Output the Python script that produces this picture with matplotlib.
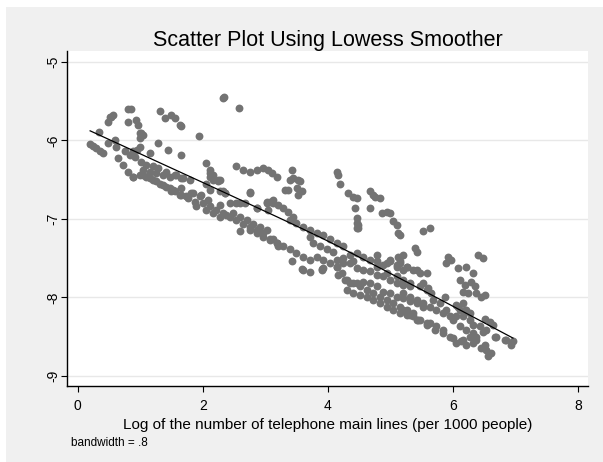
import numpy as np
import matplotlib
matplotlib.use("Agg")
import matplotlib.pyplot as plt
from matplotlib.patches import Rectangle

plt.rcParams['font.family'] = ['Liberation Sans', 'DejaVu Sans']

# points, grouped by region (x = log phone lines, y = outcome)
left_x = [0.20, 0.25, 0.30, 0.36, 0.41, 0.34, 0.54, 0.49, 0.81, 0.85,
          0.52, 0.57, 0.80, 0.94, 0.96, 1.00, 1.04, 1.31, 1.40, 1.50,
          1.55, 1.63, 1.94, 1.66, 1.45, 1.29, 1.15, 1.00, 0.60, 0.62,
          0.48, 0.88, 0.95, 0.65, 0.73, 0.81, 0.89, 0.76, 0.84, 0.92,
          1.02, 1.10, 1.21, 1.05, 1.15, 1.26, 1.37, 1.47, 1.55, 1.66,
          1.77, 1.87, 1.29, 1.42, 1.55, 1.66, 1.50, 1.66, 1.82, 1.98,
          1.02, 0.99, 1.65,
          0.89, 1.00, 1.10, 1.21, 1.31, 1.42,
          1.05, 1.15, 1.26, 1.37, 1.47, 1.58, 1.69, 1.79,
          1.53, 1.63, 1.74, 1.85, 1.95, 1.90]
left_y = [-6.05, -6.07, -6.10, -6.13, -6.16, -5.89, -5.70, -5.76, -5.60, -5.60,
          -5.70, -5.68, -5.77, -5.74, -5.80, -5.90, -5.93, -5.62, -5.71, -5.68,
          -5.71, -5.80, -5.94, -6.18, -6.12, -6.03, -6.16, -6.08, -5.99, -6.08,
          -6.03, -6.14, -6.12, -6.23, -6.31, -6.40, -6.46, -6.14, -6.18, -6.21,
          -6.27, -6.31, -6.33, -6.44, -6.48, -6.52, -6.57, -6.61, -6.65, -6.69,
          -6.74, -6.78, -6.35, -6.40, -6.44, -6.48, -6.65, -6.61, -6.67, -6.69,
          -5.91, -5.97, -5.81,
          -6.46, -6.44, -6.46, -6.50, -6.55, -6.59,
          -6.38, -6.40, -6.42, -6.44, -6.46, -6.44, -6.48, -6.50,
          -6.63, -6.69, -6.71, -6.67, -6.71, -6.84]

mid_x = [2.32, 2.34, 2.58,
         2.54, 2.65, 2.75, 2.86, 2.96, 3.04, 3.10, 3.18,
         3.42, 3.44, 3.52, 3.36, 3.50, 3.52,
         2.06, 2.11, 2.17, 2.27, 2.33, 2.35, 2.75, 2.09,
         3.07, 3.20, 3.28, 3.36, 3.44, 3.04, 2.86, 2.59,
         2.11, 2.16, 2.25, 2.27,
         2.01, 2.11, 2.22, 2.33, 2.43, 2.54, 2.65, 2.75, 2.86, 2.96, 3.07, 3.18,
         2.06, 2.17, 2.27, 2.38, 2.49, 2.59, 2.70, 2.81, 2.91, 3.02,
         2.06, 2.11, 2.25, 2.11, 2.35, 2.75,
         2.27, 2.43, 2.54, 2.67, 2.86, 3.02, 3.12,
         2.59, 2.75, 2.86, 2.96, 3.12, 3.20,
         3.02, 3.12, 3.31, 3.39, 3.55, 3.58,
         3.39, 3.49, 3.60, 3.71, 3.82, 3.92,
         3.71, 3.76, 3.87, 3.98,
         3.07, 3.18, 3.28, 3.39, 3.49, 3.60, 3.71,
         3.42, 3.59, 3.72, 3.91, 3.82, 3.92, 3.92, 3.60, 3.90]
mid_y = [-5.46, -5.45, -5.59,
         -6.33, -6.38, -6.40, -6.38, -6.35, -6.38, -6.42, -6.46,
         -6.38, -6.48, -6.50, -6.63, -6.61, -6.69,
         -6.29, -6.38, -6.44, -6.50, -6.65, -6.67, -6.66, -6.76,
         -6.78, -6.82, -6.86, -6.91, -6.97, -6.89, -6.86, -6.80,
         -6.42, -6.50, -6.52, -6.65,
         -6.80, -6.84, -6.89, -6.93, -6.97, -7.01, -7.06, -7.10, -7.14, -7.18, -7.25, -7.31,
         -6.89, -6.93, -6.97, -6.95, -6.93, -6.97, -7.01, -7.06, -7.10, -7.14,
         -6.55, -6.46, -6.50, -6.63, -6.67, -6.67,
         -6.82, -6.80, -6.80, -6.80, -6.86, -6.80, -6.80,
         -7.16, -7.14, -7.18, -7.23, -7.25, -7.35,
         -6.78, -6.76, -6.63, -6.50, -6.52, -6.65,
         -7.01, -7.05, -7.10, -7.14, -7.18, -7.20,
         -7.23, -7.31, -7.35, -7.39,
         -7.27, -7.31, -7.35, -7.39, -7.44, -7.48, -7.52,
         -7.54, -7.64, -7.68, -7.64, -7.48, -7.52, -7.63, -7.65, -7.65]

rmid_x = [4.14, 4.16, 4.19, 4.32, 4.40, 4.46, 4.43, 4.46, 4.48, 4.46, 4.67, 4.72, 4.67,
          4.75, 4.83, 4.86, 4.94, 4.99, 5.04, 5.10, 5.12, 5.15, 5.52, 5.63, 5.39, 5.42,
          4.78, 4.99, 5.12, 5.15, 5.20,
          4.03, 4.14, 4.24, 4.08,
          4.35, 4.46, 4.56, 4.67, 4.78, 4.88,
          4.99, 5.10, 5.20, 4.46, 4.48,
          4.14, 4.22, 4.30, 4.40, 4.51, 4.62, 4.72, 4.83, 4.94, 5.04, 5.15, 5.26, 5.36, 5.42,
          4.03, 4.14, 4.24, 4.35, 4.46, 4.56, 4.67, 4.78, 4.88, 4.99, 5.10, 5.20, 5.31,
          4.14, 4.24, 4.40,
          4.16, 4.27, 4.35, 4.46, 4.56,
          4.30, 4.40, 4.51, 4.62, 4.72, 4.83, 4.94, 5.04, 5.15, 5.26, 5.36, 5.47, 5.58,
          4.67, 4.78, 4.88, 4.99, 5.10, 5.20, 5.31, 5.42, 5.52,
          4.94, 5.10, 5.20, 5.31, 5.47, 5.58,
          4.78, 4.94, 5.10, 5.26, 5.42]
rmid_y = [-6.40, -6.44, -6.55, -6.67, -6.72, -6.74, -6.86, -6.99, -7.08, -7.12, -6.65, -6.69, -6.86,
          -6.72, -6.74, -6.92, -6.91, -6.93, -7.03, -7.08, -7.18, -7.20, -7.16, -7.12, -7.37, -7.42,
          -7.46, -7.52, -7.48, -7.54, -7.46,
          -7.25, -7.31, -7.35, -7.42,
          -7.46, -7.44, -7.48, -7.52, -7.54, -7.59,
          -7.54, -7.61, -7.65, -7.05, -7.12,
          -7.61, -7.69, -7.78, -7.82, -7.86, -7.90, -7.95, -7.99, -8.03, -8.07, -8.12, -8.16, -8.20, -8.29,
          -7.56, -7.52, -7.50, -7.56, -7.63, -7.65, -7.67, -7.71, -7.73, -7.78, -7.82, -7.84, -7.86,
          -7.61, -7.56, -7.54,
          -7.71, -7.78, -7.82, -7.82, -7.80,
          -7.90, -7.95, -7.97, -7.99, -8.03, -8.07, -8.12, -8.16, -8.20, -8.22, -8.24, -8.29, -8.33,
          -7.82, -7.86, -7.93, -7.95, -7.99, -8.01, -8.05, -8.07, -8.12,
          -7.69, -7.73, -7.78, -7.82, -7.86, -7.90,
          -7.61, -7.56, -7.59, -7.61, -7.65]

right_x = [5.92, 5.97, 5.89, 6.40, 6.48, 6.08, 6.21,
           6.32, 6.11, 6.19, 6.16, 6.29, 6.35,
           6.24, 6.37, 6.45, 6.51, 5.87,
           6.05, 6.11, 6.19,
           6.51, 6.59, 6.64, 6.53, 6.67,
           6.45, 6.53, 6.61, 6.56, 6.51,
           6.85, 6.93, 6.96,
           5.15, 5.26, 5.36, 5.47, 5.58,
           5.52, 5.60, 5.65,
           5.20, 5.31, 5.42, 5.52, 5.63, 5.73, 5.84, 5.95,
           5.20, 5.31, 5.44, 5.58, 5.71, 5.84, 6.00, 6.13, 6.21,
           5.68, 5.79, 5.89, 6.00, 6.11, 6.21, 6.32,
           6.37, 6.27,
           6.16, 6.05, 5.95, 5.84, 5.73, 5.63,
           6.05, 6.16, 6.27, 6.32, 6.43, 6.48,
           6.32, 6.37, 6.83, 6.69,
           6.08, 6.16, 6.21, 6.27]
right_y = [-7.48, -7.52, -7.56, -7.46, -7.50, -7.63, -7.61,
           -7.69, -7.78, -7.84, -7.93, -7.80, -7.86,
           -7.95, -7.95, -7.99, -7.97, -7.99,
           -8.10, -8.16, -8.16,
           -8.27, -8.31, -8.35, -8.41, -8.50,
           -8.65, -8.67, -8.71, -8.75, -8.61,
           -8.54, -8.61, -8.56,
           -7.56, -7.61, -7.65, -7.69, -7.69,
           -7.82, -7.88, -7.95,
           -7.95, -7.99, -8.03, -8.07, -8.12, -8.16, -8.20, -8.24,
           -8.16, -8.22, -8.29, -8.35, -8.41, -8.46, -8.52, -8.56, -8.61,
           -8.03, -8.07, -8.16, -8.29, -8.37, -8.41, -8.46,
           -8.54, -8.50,
           -8.54, -8.58, -8.50, -8.41, -8.37, -8.33,
           -8.24, -8.24, -8.29, -8.35, -8.37, -8.44,
           -8.58, -8.50, -8.54, -8.50,
           -8.12, -8.07, -8.16, -8.20]

bandwidth = 0.8
yticks = [-9, -8, -7, -6, -5]
xticks = [0, 2, 4, 6, 8]

x = np.array(left_x + mid_x + rmid_x + right_x)
y = np.array(left_y + mid_y + rmid_y + right_y)


def lowess(x, y, bw):
    # running-line lowess, tricube weights, no robustness steps
    n = len(x)
    k = int(np.floor(bw * n))
    order = np.argsort(x)
    xs = x[order]
    ys = y[order]
    fit = np.zeros(n)
    for i in range(n):
        d = np.abs(xs - xs[i])
        h = np.sort(d)[k - 1] * 1.0001
        w = np.clip(1 - (d / h) ** 3, 0, None) ** 3
        sw = w.sum()
        mx = (w * xs).sum() / sw
        my = (w * ys).sum() / sw
        b = (w * (xs - mx) * (ys - my)).sum() / (w * (xs - mx) ** 2).sum()
        fit[i] = my + b * (xs[i] - mx)
    return xs, fit


xs, ys_fit = lowess(x, y, bandwidth)

fig = plt.figure(figsize=(6.03, 4.62), dpi=100, facecolor='white')
fig.patches.append(Rectangle((6 / 603, 0), 1, 1 - 7 / 462, transform=fig.transFigure,
                             facecolor='#f0f0f0', edgecolor='none', zorder=-10))
ax = fig.add_axes([67 / 603, 76 / 462, 521 / 603, 335 / 462])
ax.set_facecolor('white')

for yt in yticks:
    ax.axhline(yt, color='#e8e8e8', linewidth=1.0, zorder=0)

ax.scatter(x, y, s=32, color='#737373', linewidths=0, zorder=2)
ax.plot(xs, ys_fit, color='black', linewidth=0.9, zorder=3)

ax.set_xlim(-0.17, 8.16)
ax.set_ylim(-9.13, -4.86)
ax.set_xticks(xticks)
ax.set_yticks(yticks)
ax.set_yticklabels([str(v) for v in yticks], rotation=90, va='center')
ax.tick_params(axis='both', direction='out', length=4, width=0.8, labelsize=10, colors='black')
ax.tick_params(axis='y', pad=1)
ax.tick_params(axis='x', pad=5)
for s in ['top', 'right']:
    ax.spines[s].set_visible(False)
for s in ['left', 'bottom']:
    ax.spines[s].set_linewidth(1.0)

ax.set_title('Scatter Plot Using Lowess Smoother', fontsize=15.5, pad=3)
ax.set_xlabel('Log of the number of telephone main lines (per 1000 people)', fontsize=11, labelpad=4)
fig.text(71 / 603, 1 - 443 / 462, 'bandwidth = .8', fontsize=8.5, va='center', ha='left')

fig.savefig('out.png', dpi=100, facecolor=fig.get_facecolor())
